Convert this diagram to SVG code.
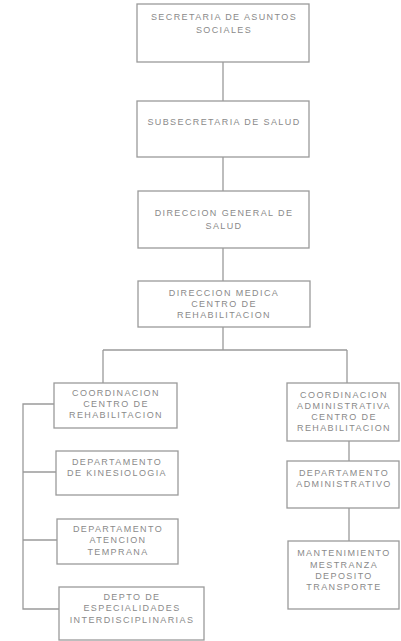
<svg xmlns="http://www.w3.org/2000/svg" width="401" height="641" viewBox="0 0 401 641">
<style>
.box{fill:#fff;stroke:#9a9a9a;stroke-width:1.3}
.t{font-family:"Liberation Sans",Arial,sans-serif;font-size:9px;letter-spacing:1.4px;fill:#8a8a8a;text-anchor:middle}
.c{fill:none;stroke:#9a9a9a;stroke-width:1.3}
</style>
<rect width="401" height="641" fill="#fff"/>
<g id="connectors">
<path class="c" d="M223 62V101M223 157V191M223 248V281M223 327V350M103 350H347M103 350V383M347 350V383"/>
<path class="c" d="M54 404H23V609H59M23 472H56M23 540H57"/>
<path class="c" d="M349 441V461M349 508V541"/>
</g>
<g id="n1"><rect class="box" x="137" y="4" width="172" height="58"/>
<text class="t" x="224" y="20">SECRETARIA DE ASUNTOS</text><text class="t" x="224" y="33">SOCIALES</text></g>
<g id="n2"><rect class="box" x="137" y="101" width="172" height="56"/>
<text class="t" x="224" y="125">SUBSECRETARIA DE SALUD</text></g>
<g id="n3"><rect class="box" x="138" y="191" width="171" height="57"/>
<text class="t" x="224" y="216">DIRECCION GENERAL DE</text><text class="t" x="224" y="229">SALUD</text></g>
<g id="n4"><rect class="box" x="138" y="281" width="172" height="46"/>
<text class="t" x="224" y="296">DIRECCION MEDICA</text><text class="t" x="224" y="307">CENTRO DE</text><text class="t" x="224" y="318">REHABILITACION</text></g>
<g id="n5"><rect class="box" x="54" y="383" width="123" height="45"/>
<text class="t" x="116" y="396">COORDINACION</text><text class="t" x="116" y="407">CENTRO DE</text><text class="t" x="116" y="418">REHABILITACION</text></g>
<g id="n6"><rect class="box" x="56" y="451" width="122" height="44"/>
<text class="t" x="117" y="465">DEPARTAMENTO</text><text class="t" x="117" y="476">DE KINESIOLOGIA</text></g>
<g id="n7"><rect class="box" x="57" y="519" width="121" height="45"/>
<text class="t" x="118" y="532">DEPARTAMENTO</text><text class="t" x="118" y="543">ATENCION</text><text class="t" x="118" y="555">TEMPRANA</text></g>
<g id="n8"><rect class="box" x="59" y="587" width="145" height="53"/>
<text class="t" x="132" y="600">DEPTO DE</text><text class="t" x="132" y="611">ESPECIALIDADES</text><text class="t" x="132" y="623">INTERDISCIPLINARIAS</text></g>
<g id="n9"><rect class="box" x="287" y="383" width="112" height="58"/>
<text class="t" x="344" y="398">COORDINACION</text><text class="t" x="344" y="409">ADMINISTRATIVA</text><text class="t" x="344" y="420">CENTRO DE</text><text class="t" x="344" y="431">REHABILITACION</text></g>
<g id="n10"><rect class="box" x="287" y="461" width="112" height="47"/>
<text class="t" x="344" y="476">DEPARTAMENTO</text><text class="t" x="344" y="487">ADMINISTRATIVO</text></g>
<g id="n11"><rect class="box" x="288" y="541" width="111" height="68"/>
<text class="t" x="344" y="556">MANTENIMIENTO</text><text class="t" x="344" y="568">MESTRANZA</text><text class="t" x="344" y="579">DEPOSITO</text><text class="t" x="344" y="590">TRANSPORTE</text></g>
</svg>
